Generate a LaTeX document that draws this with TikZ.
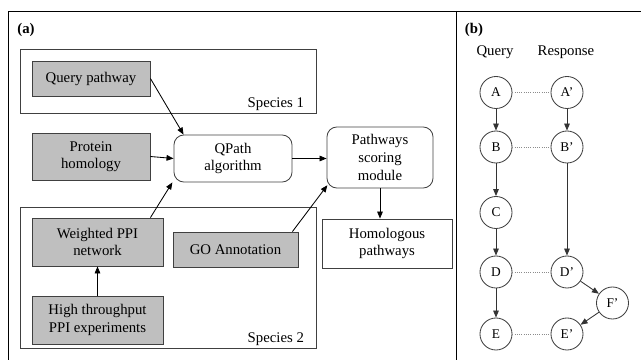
\documentclass[tikz,border=0pt]{standalone}
\usepackage{fontspec}
\setmainfont{Liberation Serif}
\usetikzlibrary{arrows.meta,positioning,calc}

\begin{document}
\begin{tikzpicture}[x=0.025cm, y=-0.025cm, line width=0.6pt, >={Triangle[length=5pt,width=4pt]},
  every node/.style={font=\fontsize{10.5}{12.5}\selectfont, align=center},
  graybox/.style={draw=black!75, fill=black!25, inner sep=0pt},
  roundbox/.style={draw=black!75, rounded corners=7pt, inner sep=0pt},
  vert/.style={circle, draw=black!75, minimum size=0.8cm, inner sep=0pt, font=\fontsize{9.5}{10}\selectfont},
  match/.style={draw=black!45, densely dotted}]
\useasboundingbox (0,0) rectangle (641,360);
% frame
\draw (8,360) -- (8,11) -- (641,11);
\draw (456,11) -- (456,360);
\node[font=\fontsize{10.5}{12.5}\selectfont\bfseries] (lba) at (26,30) {(a)};
\node[font=\fontsize{10.5}{12.5}\selectfont\bfseries] (lbb) at (474,30) {(b)};
% species boxes
\draw[black!75] (20,49) rectangle (316,113);
\node[anchor=base east] (sp1) at (309,108) {Species 1};
\draw[black!75] (20,207) rectangle (316,348);
\node[anchor=base east] (sp2) at (309,343) {Species 2};
% panel (a)
\node[graybox, minimum width=2.95cm, minimum height=0.875cm] (qpw) at (91,78.5) {Query pathway};
\node[graybox, minimum width=2.95cm, minimum height=1.175cm] (prot) at (91,156.5) {Protein\\homology};
\node[roundbox, minimum width=2.95cm, minimum height=1.175cm] (qpath) at (233,158.5) {QPath\\algorithm};
\node[roundbox, minimum width=2.65cm, minimum height=1.525cm] (score) at (380,157.5) {Pathways\\scoring\\module};
\node[draw=black!75, minimum width=3.25cm, minimum height=1.225cm] (homo) at (387,243.5) {Homologous\\pathways};
\node[graybox, minimum width=3.275cm, minimum height=1.2cm] (wppi) at (97.5,242) {Weighted PPI\\network};
\node[graybox, minimum width=3.125cm, minimum height=0.875cm] (go) at (235.5,249.5) {GO Annotation};
\node[graybox, minimum width=3.275cm, minimum height=1.2cm] (htp) at (97.5,320) {High throughput\\PPI experiments};
\draw[->] (qpw.east) -- ([xshift=0.25cm]qpath.north west);
\draw[->] (prot.east) -- (qpath.west);
\draw[->] (qpath.east) -- (qpath.east -| score.west);
\draw[->] ([xshift=-0.325cm]wppi.north east) -- ([xshift=-0.03cm]qpath.south west);
\draw[->] ([xshift=-0.15cm]go.north east) -- ([shift={(0.02cm,0.08cm)}]score.south west);
\draw[->] (score.south) -- (score.south |- homo.north);
\draw[->] (htp.north) -- (wppi.south);
% panel (b)
\node (qry) at (495,52) {Query};
\node (rsp) at (566,52) {Response};
\foreach \n/\y in {A/92.5,B/147,C/212.5,D/272,E/334}
  \node[vert] (q\n) at (496,\y) {\n};
\foreach \n/\y in {A/92.5,B/147,D/272,E/334}
  \node[vert] (r\n) at (567,\y) {\n’};
\node[vert] (rF) at (612.5,303) {F’};
\foreach \n in {A,B,D,E} \draw[match] (q\n.east) -- (r\n.west);
\foreach \a/\b in {qA/qB,qB/qC,qC/qD,qD/qE,rA/rB,rB/rD,rD/rF,rF/rE}
  \draw[->, black!80] (\a) -- (\b);
\end{tikzpicture}
\end{document}
